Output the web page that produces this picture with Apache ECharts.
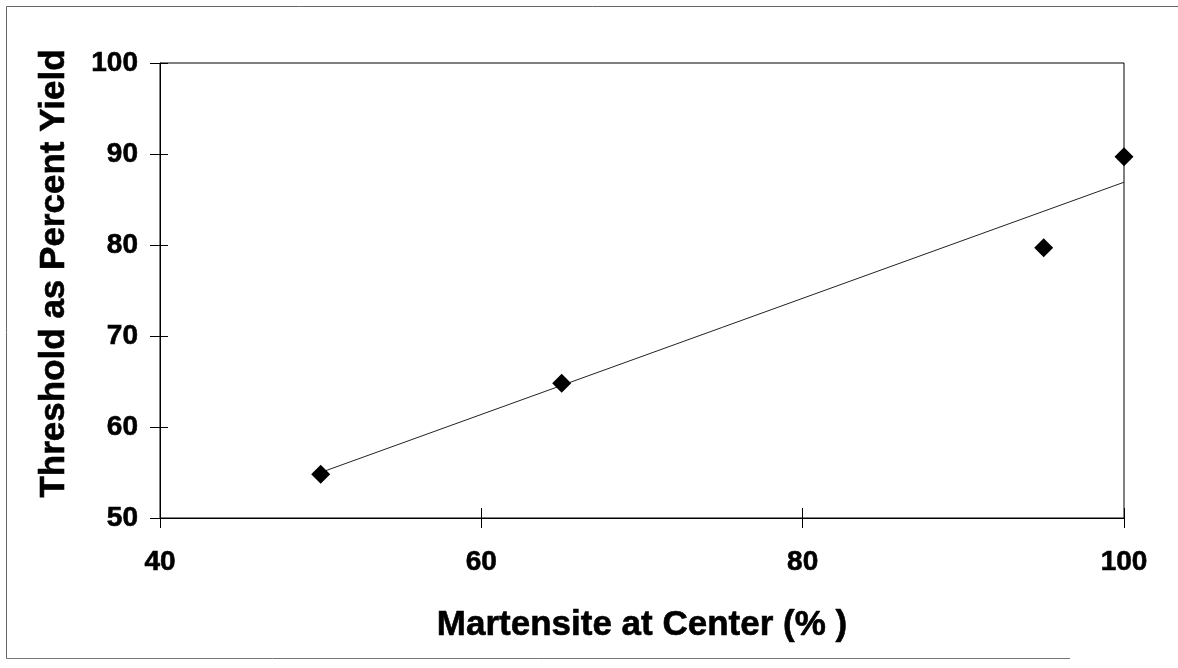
<!DOCTYPE html>
<html>
<head>
<meta charset="utf-8">
<script src="https://cdn.jsdelivr.net/npm/echarts@6/dist/echarts.min.js"></script>
<style>
  html, body { margin: 0; padding: 0; background: #fff; }
  #chart { width: 1178px; height: 668px; }
</style>
</head>
<body>
<div id="chart"></div>
<script>
// Measured specimens: martensite fraction at centre vs threshold stress
const martensitePct = [50, 65, 95, 100];
const thresholdPct = [54.8, 64.8, 79.7, 89.7];
// Least-squares trend line end points
const trendX = [50, 100];
const trendY = [55.0, 86.9];

const xAxisTitle = 'Martensite at Center (% )';
const yAxisTitle = 'Threshold as Percent Yield';

const FONT = '"Liberation Sans", Arial, sans-serif';

const points = martensitePct.map((x, i) => [x, thresholdPct[i]]);
const trend = trendX.map((x, i) => [x, trendY[i]]);

const chart = echarts.init(document.getElementById('chart'), null, { renderer: 'canvas' });

const tickLabel = {
  color: '#000', fontFamily: FONT, fontWeight: 'bold', fontSize: 28,
  textBorderColor: '#000', textBorderWidth: 0.6
};
const titleStyle = {
  color: '#000', fontFamily: FONT, fontWeight: 'bold', fontSize: 35,
  textBorderColor: '#000', textBorderWidth: 0.6
};

chart.setOption({
  animation: false,
  backgroundColor: '#fff',
  grid: {
    left: 160, right: 54, top: 63, bottom: 150,
    show: true, borderColor: '#000', borderWidth: 1, backgroundColor: 'transparent'
  },
  xAxis: [
    {
      type: 'value', min: 40, max: 100, interval: 20,
      axisLine: { show: true, lineStyle: { color: '#000', width: 1 } },
      axisTick: { show: true, inside: false, length: 10, lineStyle: { color: '#000' } },
      splitLine: { show: false },
      axisLabel: Object.assign({ margin: 30 }, tickLabel),
      name: xAxisTitle, nameLocation: 'middle', nameGap: 90,
      nameTextStyle: titleStyle
    },
    {
      type: 'value', min: 40, max: 100, interval: 20, position: 'bottom',
      axisLine: { show: false },
      axisTick: { show: true, inside: true, length: 10, lineStyle: { color: '#000' } },
      splitLine: { show: false }, axisLabel: { show: false }
    }
  ],
  yAxis: [
    {
      type: 'value', min: 50, max: 100, interval: 10,
      axisLine: { show: true, lineStyle: { color: '#000', width: 1 } },
      axisTick: { show: true, inside: false, length: 10, lineStyle: { color: '#000' } },
      splitLine: { show: false },
      axisLabel: Object.assign({ margin: 22 }, tickLabel),
      name: yAxisTitle, nameLocation: 'middle', nameGap: 88,
      nameTextStyle: Object.assign({ padding: [0, 0, 0, 34] }, titleStyle)
    },
    {
      type: 'value', min: 50, max: 100, interval: 10, position: 'left',
      axisLine: { show: false },
      axisTick: { show: true, inside: true, length: 8, lineStyle: { color: '#000' } },
      splitLine: { show: false }, axisLabel: { show: false }
    }
  ],
  series: [
    {
      type: 'line', data: trend, showSymbol: false, symbol: 'none',
      lineStyle: { color: '#222', width: 1 }, z: 2
    },
    {
      type: 'scatter', data: points, symbol: 'diamond', symbolSize: 19,
      itemStyle: { color: '#000', opacity: 1 }, z: 3
    }
  ],
  graphic: [
    { type: 'line', shape: { x1: 6.5, y1: 6.5, x2: 1178, y2: 6.5 }, style: { stroke: '#666', lineWidth: 1 } },
    { type: 'line', shape: { x1: 6.5, y1: 6.5, x2: 6.5, y2: 658.5 }, style: { stroke: '#666', lineWidth: 1 } },
    { type: 'line', shape: { x1: 6.5, y1: 658.5, x2: 1070, y2: 658.5 }, style: { stroke: '#777', lineWidth: 1 } }
  ]
});
</script>
</body>
</html>
